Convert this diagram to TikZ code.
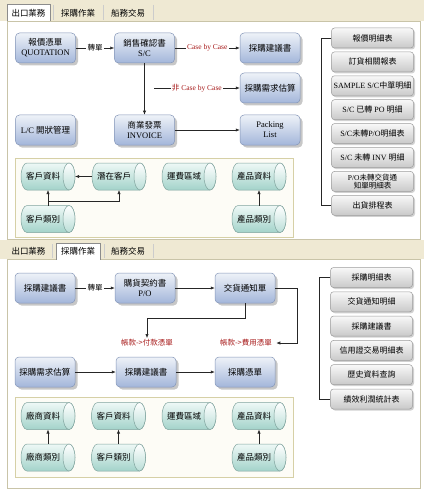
\documentclass[tikz,border=0pt]{standalone}
\usepackage{fontspec}
\setmainfont{Liberation Serif}
\newfontfamily\cjk{Noto Sans CJK TC}
\usetikzlibrary{shadows,arrows.meta}
\pgfdeclarelayer{bg}
\pgfdeclarelayer{mid}
\pgfsetlayers{bg,mid,main}
\definecolor{tabbg}{HTML}{EFE9D3}
\definecolor{panelline}{HTML}{C9C4A8}
\definecolor{btop}{HTML}{EEF2F8}
\definecolor{bbot}{HTML}{A3B6DA}
\definecolor{bdraw}{HTML}{8496B8}
\definecolor{gtop}{HTML}{F8F8F8}
\definecolor{gbot}{HTML}{C9C9C9}
\definecolor{gdraw}{HTML}{9C9C9C}
\definecolor{ctop}{HTML}{EEF8F6}
\definecolor{cbot}{HTML}{A3D3CA}
\definecolor{cdraw}{HTML}{7FA39D}
\definecolor{dbox}{HTML}{D6D0A6}
\definecolor{dfill}{HTML}{FDFCF6}
\definecolor{lblred}{HTML}{A81C1C}
\newcommand{\boxfont}{\fontsize{8.5}{10}\selectfont}
\newcommand{\btnfont}{\fontsize{8}{9}\selectfont}
\newcommand{\lblfont}{\fontsize{7.5}{9}\selectfont}
\begin{document}
\begin{tikzpicture}[x=1pt,y=-1pt,
  bluebox/.style={rectangle, rounded corners=4pt, draw=bdraw, line width=0.5pt,
    top color=btop, bottom color=bbot, minimum width=60pt, minimum height=30pt,
    inner sep=1pt, align=center, font=\boxfont,
    drop shadow={shadow xshift=2.5pt, shadow yshift=-2.5pt, opacity=0.22, fill=black}},
  graybtn/.style={rectangle, rounded corners=3pt, draw=gdraw, line width=0.5pt,
    top color=gtop, bottom color=gbot, minimum width=82pt, minimum height=20pt,
    inner sep=0.5pt, align=center, font=\btnfont,
    drop shadow={shadow xshift=1.5pt, shadow yshift=-1.5pt, opacity=0.18, fill=black}},
  datacyl/.style={rectangle, minimum width=54pt, minimum height=27pt,
    inner sep=0pt, outer sep=0pt, font=\boxfont\cjk, execute at begin node={\kern-10pt}},
  arr/.style={draw=black!85, line width=0.6pt, -{Latex[length=4pt,width=3.2pt]}},
  plain/.style={draw=black!85, line width=0.6pt},
  onlbl/.style={fill=white, inner sep=1.2pt, font=\lblfont},
  redlbl/.style={fill=white, inner sep=1.2pt, font=\lblfont, text=lblred},
  tabtxt/.style={font=\boxfont\cjk, inner sep=0pt},
  tabline/.style={draw=black!45, line width=0.5pt},
  sep/.style={draw=black!20, line width=0.5pt}
]
\useasboundingbox (0,0) rectangle (424,500);
\begin{pgfonlayer}{bg}
\fill[white] (0,0) rectangle (424,500);
% top strip and panel
\fill[tabbg] (0,0) rectangle (424,21);
\draw[panelline, fill=white, line width=0.6pt] (7,21) rectangle (420,239);
\draw[tabline, fill=white] (7,21.5) -- (7,4) -- (50,4) -- (50,21.5);
\draw[sep] (53,5) -- (53,20);
\draw[sep] (103,5) -- (103,20);
\draw[sep] (153,5) -- (153,20);
\draw[dbox, fill=dfill, line width=0.8pt] (15,158) rectangle (293,237);
% bottom strip and panel
\fill[tabbg] (0,240) rectangle (424,259);
\draw[panelline, fill=white, line width=0.6pt] (7,259) rectangle (420,488);
\draw[tabline, fill=white] (56,259.5) -- (56,243) -- (100,243) -- (100,259.5);
\draw[sep] (52,244) -- (52,258);
\draw[sep] (104,244) -- (104,258);
\draw[sep] (153,244) -- (153,258);
\draw[dbox, fill=dfill, line width=0.8pt] (15,397) rectangle (293,477);
\end{pgfonlayer}

% ---------- top panel ----------
\node[tabtxt] (ta1) at (28.5,13) {出口業務};
\node[tabtxt] (ta2) at (78,13) {採購作業};
\node[tabtxt] (ta3) at (128,13) {船務交易};

\node[bluebox] (q)   at (45.5,48)  {{\cjk 報價憑單}\\QUOTATION};
\node[bluebox] (sc)  at (144.5,48) {{\cjk 銷售確認書}\\S/C};
\node[bluebox] (jy1) at (270,48)   {\cjk 採購建議書};
\node[bluebox] (xq1) at (270,88)   {\cjk 採購需求估算};
\node[bluebox] (lc)  at (45.5,130) {L/C {\cjk 開狀管理}};
\node[bluebox] (inv) at (144.5,130){{\cjk 商業發票}\\INVOICE};
\node[bluebox] (pk)  at (270,130)  {Packing\\List};

\draw[arr] (q) -- node[onlbl] (zd1) {\cjk 轉單} (sc);
\draw[arr] (sc) -- node[redlbl] (cbc) {Case by Case} (jy1);
\draw[arr] (sc) -- (inv);
\coordinate (br) at (154,88);
\draw[arr] (br) -- node[redlbl] (ncbc) {{\cjk 非} Case by Case} (xq1);
\draw[arr] (inv) -- (pk);

\node[datacyl] (kz1) at (48,176.5)  {客戶資料};
\node[datacyl] (qz)  at (119,176.5) {潛在客戶};
\node[datacyl] (yf1) at (189,176.5) {運費區域};
\node[datacyl] (cp1) at (259,176.5) {產品資料};
\node[datacyl] (kl1) at (48,219)    {客戶類別};
\node[datacyl] (cl1) at (259,219)   {產品類別};
\draw[arr] (qz) -- (kz1);
\draw[arr] (kl1) -- (kz1);
\draw[arr] (kl1.north) -- ++(0,-4) -| (qz.south);
\draw[arr] (cl1) -- (cp1);

\node[graybtn] (r1) at (372.5,38)    {\cjk 報價明細表};
\node[graybtn] (r2) at (372.5,61.9)  {\cjk 訂貨相關報表};
\node[graybtn] (r3) at (372.5,85.8)  {SAMPLE S/C{\cjk 中單明細}};
\node[graybtn] (r4) at (372.5,109.7) {S/C {\cjk 已轉} PO {\cjk 明細}};
\node[graybtn] (r5) at (372.5,133.6) {S/C{\cjk 未轉}P/O{\cjk 明細表}};
\node[graybtn] (r6) at (372.5,157.5) {S/C {\cjk 未轉} INV {\cjk 明細}};
\node[graybtn, font=\fontsize{7.5}{8.5}\selectfont] (r7) at (372.5,181.4) {P/O{\cjk 未轉交貨通}\\{\cjk 知單明細表}};
\node[graybtn] (r8) at (372.5,205.3) {\cjk 出貨排程表};
\draw[plain] (r1.west) -- ++(-9.5,0) |- (r8.west);

% ---------- bottom panel ----------
\node[tabtxt] (tb1) at (28.5,251) {出口業務};
\node[tabtxt] (tb2) at (78,251) {採購作業};
\node[tabtxt] (tb3) at (128,251) {船務交易};

\node[bluebox] (b1)  at (45,288)  {\cjk 採購建議書};
\node[bluebox] (po)  at (145,288) {{\cjk 購貨契約書}\\P/O};
\node[bluebox] (jh)  at (245,288) {\cjk 交貨通知單};
\node[bluebox] (xq2) at (45,372)  {\cjk 採購需求估算};
\node[bluebox] (jy2) at (146,372) {\cjk 採購建議書};
\node[bluebox] (pz)  at (245,372) {\cjk 採購憑單};

\node[redlbl, font=\lblfont\cjk] (fk) at (147,343) {帳款->付款憑單};
\node[redlbl, font=\lblfont\cjk] (fy) at (246,343) {帳款->費用憑單};

\draw[arr] (b1) -- node[onlbl] (zd2) {\cjk 轉單} (po);
\draw[arr] (po) -- (jh);
\draw[arr] (jh.south) -- ++(0,15) -| (fk.north);
\draw[arr] (jh.east) -- ++(22,0) |- ([xshift=3pt]fy.east);
\draw[arr] (xq2) -- (jy2);
\draw[arr] (jy2) -- (pz);

\node[datacyl] (cs2) at (48,416)      {廠商資料};
\node[datacyl] (kz2) at (118.5,416)   {客戶資料};
\node[datacyl] (yf2) at (189,416)     {運費區域};
\node[datacyl] (cp2) at (259,416)     {產品資料};
\node[datacyl] (sl2) at (48,457.5)    {廠商類別};
\node[datacyl] (kl2) at (118.5,457.5) {客戶類別};
\node[datacyl] (cl2) at (259,457.5)   {產品類別};
\draw[arr] (sl2) -- (cs2);
\draw[arr] (kl2) -- (kz2);
\draw[arr] (cl2) -- (cp2);

\node[graybtn] (s1) at (371.5,277.5) {\cjk 採購明細表};
\node[graybtn] (s2) at (371.5,301.8) {\cjk 交貨通知明細};
\node[graybtn] (s3) at (371.5,326.1) {\cjk 採購建議書};
\node[graybtn] (s4) at (371.5,350.4) {\cjk 信用證交易明細表};
\node[graybtn] (s5) at (371.5,374.7) {\cjk 歷史資料查詢};
\node[graybtn] (s6) at (371.5,399)   {\cjk 績效利潤統計表};
\draw[plain] (s1.west) -- ++(-11,0) |- (s6.west);

% ---------- cylinder bodies ----------
\begin{pgfonlayer}{mid}
\foreach \n in {kz1,qz,yf1,cp1,kl1,cl1,cs2,kz2,yf2,cp2,sl2,kl2,cl2}{
  \shade[top color=ctop, bottom color=cbot, draw=cdraw, line width=0.5pt]
    ([xshift=6pt]\n.north west) -- ([xshift=-6pt]\n.north east)
    arc[start angle=90, end angle=-90, x radius=6pt, y radius=13.5pt]
    -- ([xshift=6pt]\n.south west)
    arc[start angle=270, end angle=90, x radius=6pt, y radius=13.5pt] -- cycle;
  \shade[top color=white, bottom color=cbot!75, draw=cdraw, line width=0.5pt]
    ([xshift=-6pt]\n.east) ellipse[x radius=6pt, y radius=13.5pt];
}
\end{pgfonlayer}
\end{tikzpicture}
\end{document}
